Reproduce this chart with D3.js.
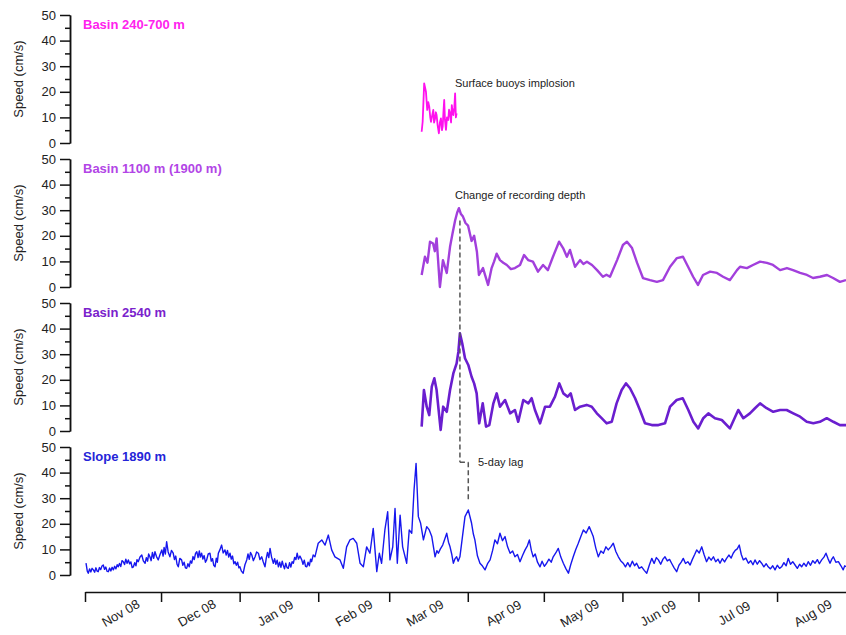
<!DOCTYPE html>
<html>
<head>
<meta charset="utf-8">
<script src="https://cdn.jsdelivr.net/npm/d3@7"></script>
<style>
  body { margin: 0; background: #fff; }
  svg text { font-family: "Liberation Sans", Arial, sans-serif; }
</style>
</head>
<body>
<svg id="chart" width="846" height="635"></svg>
<script>
// days are counted from 1 Nov 2008
var monthLabels = ["Nov 08", "Dec 08", "Jan 09", "Feb 09", "Mar 09", "Apr 09", "May 09", "Jun 09", "Jul 09", "Aug 09"];
var yTicks = [0, 10, 20, 30, 40, 50];
var yMinorTicks = [5, 15, 25, 35, 45];

var panelTitles = ["Basin 240-700 m", "Basin 1100 m (1900 m)", "Basin 2540 m", "Slope 1890 m"];

var shallowDay = [132.8, 133.2, 133.8, 134.5, 135.0, 135.4, 135.8, 136.2, 136.5, 137.0, 137.4, 137.7, 138.1, 138.4, 138.7, 139.1, 139.6, 140.0, 140.4, 140.8, 141.1, 141.4, 141.7, 142.0, 142.4, 142.8, 143.3, 143.6, 144.0, 144.4, 144.7, 145.0, 145.3, 145.7, 146.0, 146.3, 146.6];
var shallowSpeed = [4.4, 8.3, 23.3, 20, 12.9, 16, 14.2, 10, 8.3, 11, 12.9, 8, 9.6, 12, 10.9, 7, 3.8, 8, 9.6, 5, 6.4, 12, 16.8, 9, 5.1, 10, 9, 13, 11.6, 8, 14.8, 12, 10.9, 14, 19.4, 10, 11.6];

var midDay = [132.8, 134.1, 135.1, 136.1, 137.3, 138.0, 138.7, 140.0, 141.2, 142.7, 144.0, 145.0, 146.0, 146.8, 147.5, 148.3, 149.1, 150.1, 151.1, 152.5, 153.5, 154.6, 155.4, 157.0, 159.0, 160.4, 161.4, 162.4, 163.7, 165.0, 166.4, 168.0, 169.6, 171.6, 173.2, 174.8, 176.7, 178.7, 180.7, 182.6, 184.6, 187.0, 188.6, 190.1, 191.3, 193.3, 195.3, 196.6, 198.0, 200.0, 202.0, 204.3, 205.7, 207.1, 209.9, 212.2, 213.8, 215.8, 217.8, 220.1, 222.9, 225.6, 228.0, 230.8, 233.5, 235.9, 237.9, 239.9, 241.8, 243.8, 246.6, 249.3, 251.7, 254.4, 257.2, 258.4, 261.1, 263.5, 266.3, 269.0, 271.4, 274.2, 276.9, 279.3, 282.1, 284.8, 287.2, 289.9, 292.7, 295.1, 297.8, 300.2];
var midSpeed = [4.7, 11.8, 9.5, 17.7, 17, 14, 19, 0, 10.5, 5.5, 15.7, 21, 26, 29, 30.8, 28.5, 27.5, 25, 24, 18, 20, 13.8, 4.7, 7.4, 0.8, 7.4, 10, 13, 10.5, 9.5, 8.6, 7, 7.4, 8.6, 12.5, 10.5, 9.9, 6, 8.6, 6.6, 11.8, 17.7, 15.2, 11.8, 14.5, 7.9, 10.5, 9, 9.9, 8.6, 6.6, 4, 4.8, 4, 10.5, 16.4, 17.7, 15.2, 9.4, 3.5, 2.7, 2, 2.7, 7.9, 11.3, 11.8, 7.9, 4, 0.8, 4.7, 6, 5.5, 4, 2.7, 6.6, 7.9, 7.4, 8.6, 9.9, 9.4, 8.6, 6.6, 7.4, 6.6, 5.5, 4.7, 3.5, 4, 4.7, 3.5, 2, 2.7];

var deepDay = [132.8, 133.7, 134.8, 135.8, 136.8, 137.8, 138.7, 140.3, 141.3, 142.7, 144.0, 145.3, 146.6, 147.3, 147.9, 148.8, 149.9, 151.2, 152.5, 153.5, 154.5, 155.5, 156.9, 158.2, 159.5, 161.1, 162.4, 163.7, 165.7, 167.7, 169.6, 170.9, 172.9, 174.9, 176.2, 177.5, 179.5, 181.5, 183.4, 185.4, 187.1, 188.7, 190.4, 191.6, 193.3, 195.3, 197.9, 199.9, 201.9, 203.8, 205.8, 207.8, 209.7, 211.7, 213.4, 215.0, 217.0, 218.9, 220.9, 223.6, 226.2, 228.8, 230.8, 233.4, 235.8, 238.0, 240.0, 241.9, 243.9, 245.9, 248.5, 251.2, 254.4, 257.7, 259.7, 262.3, 264.3, 266.3, 268.9, 271.5, 274.2, 276.8, 279.4, 282.1, 284.7, 287.3, 289.9, 292.6, 295.2, 297.8, 300.2];
var deepSpeed = [1.7, 16, 9.5, 6.2, 17.3, 20.6, 16, 0.4, 9.5, 7.5, 16, 22.5, 26.4, 31, 38.2, 34.3, 28.4, 25.8, 21.2, 18.6, 14.7, 3, 10.8, 1.7, 2.3, 10.8, 14.7, 9.5, 12.1, 6.9, 8.2, 3.6, 12.1, 10.8, 12.8, 8.2, 3, 9.5, 9.5, 13.4, 18.6, 14.7, 13.4, 14.7, 8.2, 9.5, 10.2, 9.5, 6.9, 5, 3, 3.6, 10.8, 16, 18.6, 16.7, 12.8, 8.2, 3, 2.3, 2.3, 3, 9.5, 12.1, 12.8, 8.2, 3.6, 1, 5, 6.9, 5, 4.3, 1, 8.2, 5, 6.9, 8.9, 10.8, 8.9, 7.5, 8.2, 8.2, 6.9, 5.6, 3.6, 3, 3.6, 5, 3.6, 2.3, 2.3];

// [day, speed]
var slopeReadings = [
  [0.4, 4.6], [0.9, 1.5], [1.3, 0.7], [1.8, 2.4], [2.3, 1.2], [2.8, 2.6], [3.3, 2], [3.8, 1.1], [4.3, 2.8], [4.8, 1.5],
  [5.2, 1.3], [5.7, 2.9], [6.2, 2.1], [6.7, 3.5], [7.2, 3.9], [7.7, 2.2], [8.2, 3.1], [8.7, 1.4], [9.2, 1.3], [9.7, 2.7],
  [10.2, 1.6], [10.7, 3], [11.2, 2], [11.7, 3.4], [12.2, 2.4], [12.7, 4], [13.1, 3.2], [13.6, 4.5], [14.1, 3.3], [14.6, 5.6],
  [15.1, 5.2], [15.6, 4.1], [16.1, 6.2], [16.6, 4.6], [17.1, 5.9], [17.6, 4.4], [18.1, 5.1], [18.6, 2.9], [19.1, 3.2], [19.6, 4.8],
  [20.1, 3.6], [20.5, 6], [21.0, 5.2], [21.7, 7], [22.4, 7.8], [23.0, 5.5], [23.7, 4.6], [24.2, 6.8], [24.7, 5.4], [25.1, 8.2],
  [25.6, 7.1], [26.1, 5.6], [26.6, 8.8], [27.1, 6.5], [27.6, 9.1], [28.2, 7.2], [28.9, 5.9], [29.6, 8], [30.3, 9.8], [30.8, 7.4],
  [31.2, 10.8], [31.7, 8.2], [32.2, 13], [32.8, 9], [33.5, 7.1], [34.1, 9.6], [34.8, 8.5], [35.3, 6], [35.8, 7.4], [36.3, 4.2],
  [36.8, 3.2], [37.4, 6.5], [38.1, 5.9], [38.6, 3.8], [39.1, 5], [39.6, 2.8], [40.1, 2.6], [40.6, 4.4], [41.1, 3.2], [41.6, 5.5],
  [42.1, 4.6], [42.6, 7.2], [43.1, 6], [43.6, 8.4], [44.1, 9.1], [44.6, 6.8], [45.1, 9.4], [45.5, 7], [46.0, 8.5], [46.5, 6.2],
  [47.0, 7.6], [47.5, 5], [48.0, 5.9], [48.6, 8.2], [49.3, 8.5], [49.8, 5.4], [50.3, 6.4], [50.8, 3.8], [51.3, 3.2], [51.8, 6.6],
  [52.2, 5], [52.6, 8.5], [53.2, 9.8], [53.9, 11.7], [54.5, 8.6], [55.2, 9.8], [55.7, 7.8], [56.2, 9.6], [56.7, 7], [57.2, 8.5],
  [57.7, 6.2], [58.2, 7.4], [58.7, 4.4], [59.2, 5.2], [59.7, 3.8], [60.2, 5], [60.7, 2.8], [61.1, 3.2], [61.7, 1.5], [62.4, 0.7],
  [63.1, 4], [63.8, 5.9], [64.3, 8.2], [64.8, 6.1], [65.3, 8.8], [65.8, 7.8], [66.4, 5.6], [67.1, 7.1], [67.7, 9], [68.4, 8.5],
  [69.0, 6], [69.7, 7.1], [70.3, 5.2], [71.0, 3.2], [71.5, 6.5], [72.0, 8.8], [72.5, 6.8], [73.0, 10.4], [73.6, 7], [74.3, 4.6],
  [74.8, 6.4], [75.3, 4.2], [75.8, 5.8], [76.3, 3.2], [76.8, 5], [77.3, 3], [77.8, 5.4], [78.2, 3.9], [78.7, 2.4], [79.2, 4.6],
  [79.7, 2.9], [80.2, 2.6], [80.7, 4.8], [81.2, 3.1], [81.7, 5.2], [82.2, 4.6], [82.7, 6.9], [83.2, 6], [83.7, 8.5], [84.2, 6.2],
  [84.8, 7.4], [85.5, 5.9], [86.0, 4.2], [86.5, 5.8], [87.0, 3.4], [87.5, 3.2], [88.0, 5], [88.5, 3.6], [89.0, 6.2], [89.4, 5.2],
  [90.0, 7.8], [90.7, 7.1], [92.0, 12.4], [93.4, 13.7], [94.7, 11.7], [96.0, 15.6], [97.3, 9.8], [98.6, 7.1], [100.6, 5.9], [101.9, 2.6],
  [103.2, 11], [104.5, 13.7], [105.8, 14.3], [107.2, 12.4], [108.5, 4.6], [109.8, 3.2], [111.1, 11], [112.4, 8.5], [113.7, 18.2], [115.1, 1.3],
  [116.1, 8.5], [117.0, 4.6], [118.3, 17.6], [119.4, 24.7], [120.3, 5.9], [121.4, 11], [122.3, 26], [123.2, 4.6], [124.3, 23.4], [125.3, 11],
  [126.9, 4.6], [127.9, 17.6], [128.9, 16.3], [129.8, 33.2], [130.6, 43.6], [131.5, 22.8], [132.4, 20.2], [133.5, 13.7], [134.8, 18.9], [135.8, 17.6],
  [136.8, 15], [138.1, 7.1], [138.8, 9.5], [139.4, 8.5], [140.2, 10.2], [141.1, 11.7], [141.9, 14], [142.7, 16.3], [143.4, 12.8], [144.0, 11],
  [144.7, 8], [145.3, 4.6], [146.0, 6.4], [146.6, 7.1], [147.2, 5.4], [147.9, 7.1], [148.9, 15], [149.9, 22.8], [151.2, 25.4], [152.5, 20.2],
  [153.2, 16], [153.8, 13.7], [154.8, 7.5], [155.8, 4.6], [156.8, 3.5], [157.8, 2], [158.8, 4.4], [159.8, 5.9], [160.8, 9.6], [161.7, 13.7],
  [162.7, 12.2], [163.7, 16.3], [164.7, 13.4], [165.7, 15], [166.7, 11], [167.7, 8.5], [168.7, 9.4], [169.6, 7.1], [170.6, 8], [171.6, 5.2],
  [172.6, 7.6], [173.6, 9.8], [174.5, 11.4], [175.3, 13.7], [176.1, 9.5], [176.8, 7.1], [177.6, 8.2], [178.5, 5], [179.5, 3.2], [180.3, 5.4],
  [181.2, 3.4], [182.1, 4.6], [183.0, 6.2], [183.9, 5], [184.7, 7.1], [185.7, 8.6], [186.7, 10.4], [187.7, 7], [188.7, 4.6], [189.7, 2.5],
  [190.7, 0.7], [191.6, 4], [192.6, 7.1], [193.6, 10], [194.6, 12.4], [195.6, 15], [196.6, 17.6], [197.7, 16.4], [198.9, 18.9], [199.7, 17],
  [200.5, 15], [201.5, 10.5], [202.5, 7.1], [203.5, 9.4], [204.5, 8.5], [205.5, 11], [206.4, 9.8], [207.4, 11], [208.4, 12.4], [209.4, 9.2],
  [210.4, 7.1], [211.3, 5.6], [212.3, 4.6], [213.2, 3.2], [214.1, 4.8], [215.0, 3.2], [215.9, 5.4], [216.8, 3.6], [217.6, 4.6], [218.6, 2.6],
  [219.6, 3.2], [220.6, 1.8], [221.6, 0.7], [222.6, 3.8], [223.6, 6.5], [224.5, 4.5], [225.4, 6.8], [226.2, 5.9], [227.1, 4.2], [228.0, 6.2],
  [228.8, 7.1], [229.7, 5.5], [230.6, 6.1], [231.4, 4.6], [232.4, 2.8], [233.4, 1.3], [234.3, 3.8], [235.2, 5], [236.0, 6.5], [236.9, 4.5],
  [237.8, 5.2], [238.7, 3.9], [239.6, 6.1], [240.5, 8], [241.3, 9.8], [242.3, 8.6], [243.3, 11], [244.2, 8], [245.2, 5.2], [246.1, 7],
  [247.0, 5.8], [247.9, 7.1], [248.8, 5.2], [249.7, 6.2], [250.5, 4.6], [251.4, 6.4], [252.3, 5.1], [253.1, 6.5], [254.0, 7.8], [254.9, 6.6],
  [255.7, 8.5], [256.5, 9.6], [257.3, 10.2], [258.1, 11.7], [258.9, 8], [259.7, 5.9], [260.7, 6.6], [261.7, 4.6], [262.6, 5.6], [263.5, 4],
  [264.3, 5.9], [265.2, 4.2], [266.1, 5.6], [266.9, 4.6], [267.8, 3.2], [268.7, 4.4], [269.5, 3.2], [270.4, 2.4], [271.3, 3.6], [272.2, 2],
  [273.1, 3.8], [274.0, 2.6], [274.8, 3.2], [275.7, 4.8], [276.6, 3.6], [277.4, 6.5], [278.3, 4.2], [279.2, 5.2], [280.1, 3.9], [281.0, 2.6],
  [281.9, 4.2], [282.7, 3.2], [283.6, 4.6], [284.5, 3.4], [285.3, 5.2], [286.2, 3.8], [287.1, 5.6], [288.0, 4.6], [288.9, 6], [289.7, 4.4],
  [290.6, 5.9], [291.5, 7], [292.3, 8.5], [293.1, 6.4], [293.9, 4.6], [294.6, 6.2], [295.2, 7.1], [296.2, 5], [297.2, 5.2], [298.2, 3.6],
  [299.1, 2], [299.7, 3.6], [300.2, 3.2]
];
var slopeDay = slopeReadings.map(function(r) { return r[0]; });
var slopeSpeed = slopeReadings.map(function(r) { return r[1]; });

// change of recording depth peak, then slope peak 5 days later
var lagDays = [147.9, 151.2];

var colors = ["#ff11ee", "#a23fdc", "#6a1ecf", "#1717ee"];
var titleColors = ["#ff22ee", "#b245e6", "#7a22cc", "#2424d8"];

var svg = d3.select("#chart");
var t0 = new Date(2008, 10, 1);

function dayToDate(d) {
  return new Date(t0.getTime() + d * 864e5);
}

var x = d3.scaleTime()
    .domain([t0, dayToDate(300.2)])
    .range([85, 846]);

var panelTop = [15, 159, 303, 447];
var panelH = 128;

var series = [
  [shallowDay, shallowSpeed],
  [midDay, midSpeed],
  [deepDay, deepSpeed],
  [slopeDay, slopeSpeed]
];
var widths = [1.8, 2.4, 2.6, 1.4];

var yScales = [];

panelTop.forEach(function(top, i) {
  var y = d3.scaleLinear().domain([0, 50]).range([top + panelH, top]);
  yScales.push(y);

  var g = svg.append("g").attr("transform", "translate(70,0)");
  g.call(d3.axisLeft(y).tickValues(yTicks).tickSize(10).tickSizeOuter(0).tickPadding(4));
  g.append("g").call(d3.axisLeft(y).tickValues(yMinorTicks).tickSize(5).tickSizeOuter(0).tickFormat(""));
  g.selectAll("path, line").attr("stroke", "#111").attr("stroke-width", 1.5);
  g.selectAll("text").attr("font-size", 13).attr("fill", "#222")
      .attr("font-family", "Liberation Sans, Arial, sans-serif");

  svg.append("text")
      .attr("transform", "translate(23," + (top + panelH / 2) + ") rotate(-90)")
      .attr("text-anchor", "middle")
      .attr("font-size", 13)
      .attr("fill", "#222")
      .text("Speed (cm/s)");

  svg.append("text")
      .attr("x", 83)
      .attr("y", top + 14)
      .attr("font-size", 13)
      .attr("font-weight", "bold")
      .attr("fill", titleColors[i])
      .text(panelTitles[i]);

  var days = series[i][0], vals = series[i][1];
  var line = d3.line()
      .x(function(d) { return x(dayToDate(d)); })
      .y(function(d, k) { return y(vals[k]); });

  svg.append("path")
      .datum(days)
      .attr("d", line)
      .attr("fill", "none")
      .attr("stroke", colors[i])
      .attr("stroke-width", widths[i])
      .attr("stroke-linejoin", "round");
});

// x axis with month ticks, labels in the middle of each month
var months = d3.timeMonth.range(t0, new Date(2009, 8, 1));
var xg = svg.append("g").attr("transform", "translate(0,592)");
xg.call(d3.axisBottom(x).tickValues(months).tickSize(10).tickSizeOuter(0).tickFormat(""));
xg.selectAll("path, line").attr("stroke", "#111").attr("stroke-width", 1.5);

svg.selectAll(".month-label")
  .data(months)
  .enter().append("text")
    .attr("class", "month-label")
    .attr("transform", function(d) {
      return "translate(" + x(d3.timeDay.offset(d, 15)) + ",617) rotate(-30)";
    })
    .attr("text-anchor", "middle")
    .attr("font-size", 13)
    .attr("fill", "#222")
    .text(function(d, i) { return monthLabels[i]; });

// annotations
var ann = svg.append("g").attr("font-size", 11).attr("fill", "#222");
ann.append("text").attr("x", 455).attr("y", 87).text("Surface buoys implosion");
ann.append("text").attr("x", 455).attr("y", 199).text("Change of recording depth");
ann.append("text").attr("x", 478).attr("y", 466).text("5-day lag");

var xa = x(dayToDate(lagDays[0])), xb = x(dayToDate(lagDays[1]));
var dash = svg.append("g")
    .attr("stroke", "#555")
    .attr("stroke-width", 1.5)
    .attr("stroke-dasharray", "5,3");
dash.append("line").attr("x1", xa).attr("x2", xa)
    .attr("y1", yScales[1](26)).attr("y2", yScales[3](44));
dash.append("line").attr("x1", xa).attr("x2", xb)
    .attr("y1", yScales[3](44)).attr("y2", yScales[3](44))
    .attr("stroke-dasharray", null);
dash.append("line").attr("x1", xb).attr("x2", xb)
    .attr("y1", yScales[3](44)).attr("y2", yScales[3](29));
</script>
</body>
</html>
